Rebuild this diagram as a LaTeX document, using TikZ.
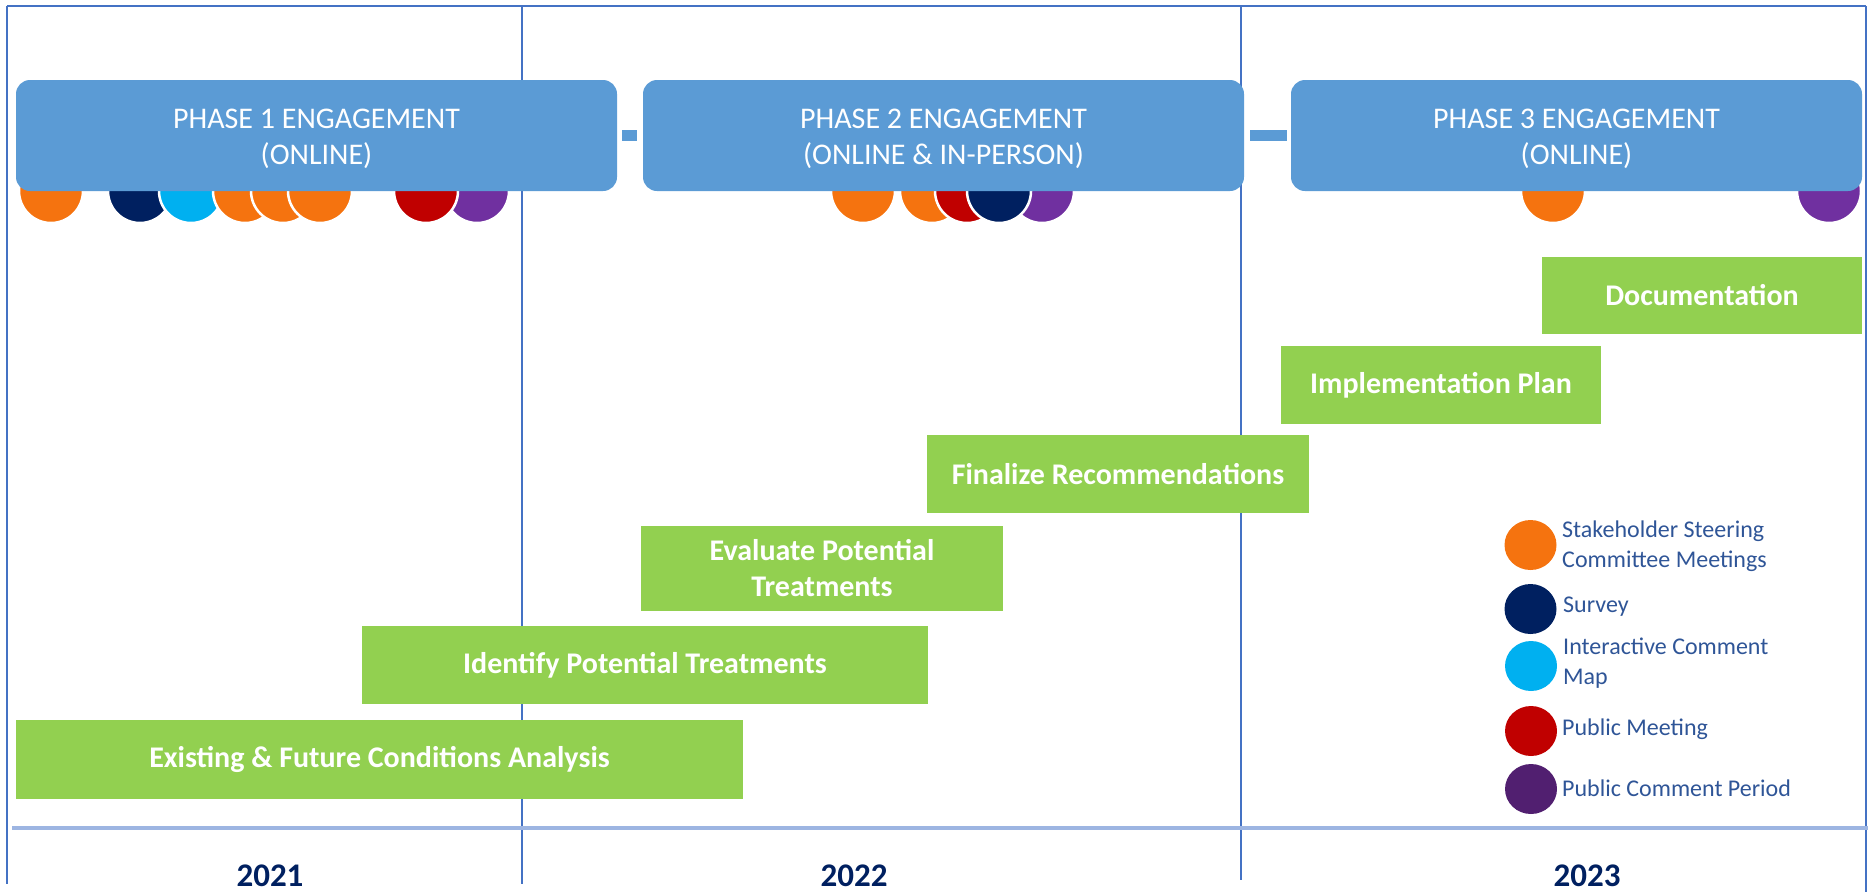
\documentclass[tikz,border=0pt]{standalone}
\usepackage{fontspec}
\setmainfont{Carlito}
\usetikzlibrary{shapes.geometric}
\definecolor{phaseblue}{HTML}{5B9BD5}
\definecolor{gridblue}{HTML}{4472C4}
\definecolor{lightgrid}{HTML}{9DB5E2}
\definecolor{barGreen}{HTML}{92D050}
\definecolor{cOrange}{HTML}{F5730F}
\definecolor{cNavy}{HTML}{002060}
\definecolor{cCyan}{HTML}{00B0F0}
\definecolor{cRed}{HTML}{C00000}
\definecolor{cPurple}{HTML}{7030A0}
\definecolor{cPurpleDark}{HTML}{511F70}
\definecolor{legendText}{HTML}{2F5597}
\tikzset{
  phase/.style={fill=phaseblue, rounded corners=14pt, inner sep=0pt, outer sep=0pt,
    text=white, align=center, font=\fontsize{30}{36}\selectfont, minimum height=111pt},
  phasetext/.style={text=white, align=center, inner sep=0pt, font=\fontsize{30}{36}\selectfont},
  bar/.style={fill=barGreen, inner sep=0pt, outer sep=0pt, text=white, align=center,
    font=\bfseries\fontsize{30}{36}\selectfont},
  dot/.style={circle, draw=white, line width=2.5pt, minimum size=64pt, inner sep=0pt, fill=#1},
  leg/.style={ellipse, minimum width=52pt, minimum height=50pt, inner sep=0pt, fill=#1},
  legtext/.style={anchor=west, align=left, text=legendText, inner sep=0pt,
    font=\fontsize{24}{29.5}\selectfont},
  year/.style={anchor=base, text=cNavy, inner sep=0pt, font=\bfseries\fontsize{33}{36}\selectfont},
  conn/.style={draw=phaseblue, line width=11pt},
  grid/.style={draw=gridblue, line width=1.2pt}
}
\begin{document}
\begin{tikzpicture}[x=1pt, y=-1pt]
\useasboundingbox (0,0) rectangle (1871,892);
% grid lines
\coordinate (tl) at (7,6);
\coordinate (tr) at (1866,6);
\draw[grid] (tl) -- (tr);
\draw[grid] (7,6) -- (7,884);
\draw[grid] (522,6) -- (522,884);
\draw[grid] (1241,6) -- (1241,880);
\draw[grid] (1866,6) -- (1866,892);
\draw[draw=lightgrid, line width=3.5pt] (12,828) -- (1868,828);
% phase 1 circles
\node[dot=cOrange] (a1) at (51,191) {};
\node[dot=cNavy] (a2) at (140,191) {};
\node[dot=cCyan] (a3) at (191,191) {};
\node[dot=cOrange] (a4) at (245,191) {};
\node[dot=cOrange] (a5) at (283,191) {};
\node[dot=cOrange] (a6) at (320,191) {};
\node[dot=cPurple] (a8) at (477,191) {};
\node[dot=cRed] (a7) at (426,191) {};
% phase 2 circles
\node[dot=cOrange] (b1) at (863,191) {};
\node[dot=cOrange] (b2) at (932,191) {};
\node[dot=cRed] (b3) at (967,191) {};
\node[dot=cPurple] (b5) at (1042,191) {};
\node[dot=cNavy] (b4) at (999,191) {};
% phase 3 circles
\node[dot=cOrange] (d1) at (1553,191) {};
\node[dot=cPurple] (d2) at (1829,191) {};
% phase boxes
\node[phase, minimum width=601pt] (p1) at (316.5,135.5) {};
\node[phase, minimum width=601pt] (p2) at (943.5,135.5) {};
\node[phase, minimum width=571pt] (p3) at (1576.5,135.5) {};
\node[phasetext] (p1t) at (316.5,139) {PHASE 1 ENGAGEMENT\\(ONLINE)};
\node[phasetext] (p2t) at (943.5,139) {PHASE 2 ENGAGEMENT\\(ONLINE \& IN-PERSON)};
\node[phasetext] (p3t) at (1576.5,139) {PHASE 3 ENGAGEMENT\\(ONLINE)};
\draw[conn, shorten <=5pt, shorten >=6pt] (p1) -- (p2);
\draw[conn, shorten <=6pt, shorten >=4pt] (p2) -- (p3);
% task bars
\node[bar, minimum width=320pt, minimum height=77pt] (doc) at (1702,295.5) {Documentation};
\node[bar, minimum width=320pt, minimum height=78pt] (impl) at (1441,385) {Implementation Plan};
\node[bar, minimum width=382pt, minimum height=78pt] (fin) at (1118,474) {Finalize Recommendations};
\node[bar, minimum width=362pt, minimum height=85pt] (eval) at (822,568.5) {Evaluate Potential\\Treatments};
\node[bar, minimum width=566pt, minimum height=78pt] (ident) at (645,665) {Identify Potential Treatments};
\node[bar, minimum width=727pt, minimum height=79pt] (exist) at (379.5,759.5) {Existing \& Future Conditions Analysis};
% legend
\node[leg=cOrange] (l1) at (1530.5,545) {};
\node[leg=cNavy] (l2) at (1530.5,609) {};
\node[leg=cCyan] (l3) at (1531,666) {};
\node[leg=cRed] (l4) at (1531,731) {};
\node[leg=cPurpleDark] (l5) at (1531,789) {};
\node[legtext] (t1) at (1562,546) {Stakeholder Steering\\Committee Meetings};
\node[legtext] (t2) at (1563,607) {Survey};
\node[legtext] (t3) at (1563,663) {Interactive Comment\\Map};
\node[legtext] (t4) at (1562,729) {Public Meeting};
\node[legtext] (t5) at (1562,788) {Public Comment Period};
% years
\node[year] (y1) at (270,886) {2021};
\node[year] (y2) at (854,886) {2022};
\node[year] (y3) at (1587,886) {2023};
\end{tikzpicture}
\end{document}
